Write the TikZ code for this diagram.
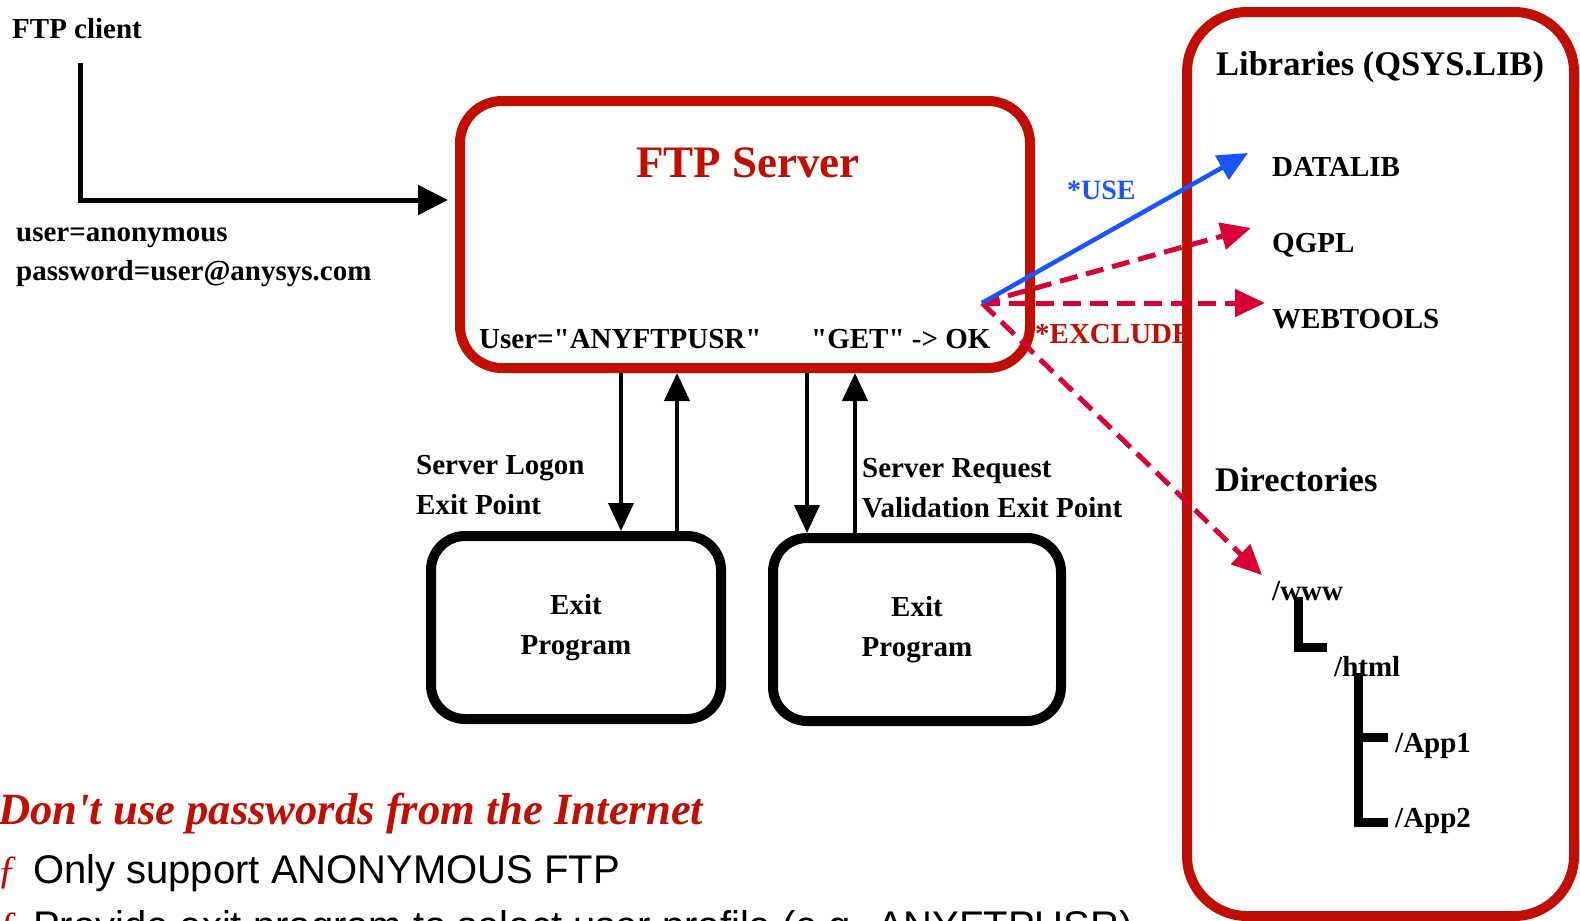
\documentclass[tikz,border=0pt]{standalone}
\usepackage{fontspec}
\setmainfont{Liberation Serif}[Ligatures=TeXOff]
\newfontfamily\bodysans{Liberation Sans}
\usetikzlibrary{arrows.meta,calc}
\definecolor{boxred}{RGB}{192,14,0}
\definecolor{crim}{RGB}{217,0,52}
\definecolor{useblue}{RGB}{25,85,255}

\begin{document}
\begin{tikzpicture}[x=1pt,y=-1pt,
  txt/.style={inner sep=0pt, anchor=base west, font=\fontsize{29}{34}\selectfont\bfseries},
  bigtxt/.style={txt, font=\fontsize{34.5}{40}\selectfont\bfseries},
  redbox/.style={draw=boxred, line width=10pt, rounded corners=#1, inner sep=0pt},
  blackbox/.style={draw=black, line width=10pt, rounded corners=34pt, inner sep=0pt,
    align=center, font=\fontsize{29}{40}\selectfont\bfseries},
  flow/.style={line width=4pt, -{Triangle[length=28pt,width=25pt]}},
  feed/.style={line width=5pt, line join=miter, -{Triangle[length=30pt,width=29pt]}},
  allow/.style={draw=useblue, line width=4.5pt, -{Triangle[length=30pt,width=27pt]}},
  deny/.style={draw=crim, line width=5pt, dash pattern=on 18pt off 9pt,
    -{Triangle[length=30pt,width=27pt]}},
  tree/.style={line width=9pt, line join=miter},
  bullet/.style={inner sep=0pt, anchor=base west, text=boxred,
    font=\fontsize{40}{48}\selectfont\itshape},
  point/.style={inner sep=0pt, anchor=base west, font=\bodysans\fontsize{40}{48}\selectfont},
]
\useasboundingbox (0,0) rectangle (1580,921);
\clip (0,0) rectangle (1580,921);

% client side
\node[txt] (client) at (12,38) {FTP client};
\node[txt] (user) at (16,241) {user=anonymous};
\node[txt] (pass) at (16,280) {password=user@anysys.com};

% server and exit programs
\node[redbox=42pt, minimum width=570pt, minimum height=267pt] (server) at (745,234.5) {};
\node[inner sep=0pt, anchor=base, text=boxred, font=\fontsize{45}{50}\selectfont\bfseries]
  (title) at (748,177) {FTP Server};
\node[txt] (ftpuser) at (479,348) {User="ANYFTPUSR"};
\node[txt] (getok) at (811,348) {"GET" -> OK};

\node[blackbox, minimum width=290pt, minimum height=183pt] (exitA) at (576,627.5) {Exit\\Program};
\node[blackbox, minimum width=288pt, minimum height=183pt] (exitB) at (917,629.5) {Exit\\Program};

\node[txt] (logon1) at (416,474) {Server Logon};
\node[txt] (logon2) at (416,514) {Exit Point};
\node[txt] (req1) at (862,477) {Server Request};
\node[txt] (req2) at (862,517) {Validation Exit Point};

\coordinate (pA1) at ([xshift=45pt]exitA.north);
\coordinate (pA2) at ([xshift=101pt]exitA.north);
\coordinate (pB1) at ([xshift=-110pt]exitB.north);
\coordinate (pB2) at ([xshift=-62pt]exitB.north);
\draw[flow] (pA1 |- server.south) -- (pA1);
\draw[flow] (pA2) -- (pA2 |- server.south);
\draw[flow] (pB1 |- server.south) -- (pB1);
\draw[flow] (pB2) -- (pB2 |- server.south);

% client request into the server
\coordinate (ctop) at (80,63);
\coordinate (cin) at (448,200);
\draw[feed] (ctop) |- (cin);

% libraries and directories
\node[inner sep=0pt, anchor=base west, text=boxred, font=\fontsize{29}{32}\selectfont\bfseries]
  (exclude) at (1035,343) {*EXCLUDE};
\node[inner sep=0pt, anchor=base west, text=useblue, font=\fontsize{28}{32}\selectfont\bfseries]
  (use) at (1067,199) {*USE};
\node[redbox=60pt, minimum width=387pt, minimum height=904pt] (libs) at (1380.5,464) {};
\node[bigtxt] (libtitle) at (1216,75) {Libraries (QSYS.LIB)};
\node[txt] (datalib) at (1272,176) {DATALIB};
\node[txt] (qgpl) at (1272,252) {QGPL};
\node[txt] (webtools) at (1272,328) {WEBTOOLS};
\node[bigtxt] (dirs) at (1215,491) {Directories};
\node[txt] (www) at (1272,600) {/www};
\node[txt] (html) at (1334,676) {/html};
\node[txt] (app1) at (1395,752) {/App1};
\node[txt] (app2) at (1395,827) {/App2};

\draw[tree] ($(www.base west)+(26,-3)$) |- ($(html.base west)+(-7,-29)$);
\draw[tree] ($(html.base west)+(24,-3)$) |- ($(app2.base west)+(-7,-5)$);
\draw[tree] ($(app1.base west)+(-41,-15)$) -- ($(app1.base west)+(-7,-15)$);

% authority checks from the request
\coordinate (fork) at (982,303);
\coordinate (tipD) at ($(datalib.base west)+(-24,-23)$);
\coordinate (tipQ) at ($(qgpl.base west)+(-21,-24)$);
\coordinate (tipW) at ($(webtools.base west)+(-7,-25)$);
\coordinate (tipX) at ($(www.base west)+(-10,-25)$);
\draw[deny] (fork) -- (tipQ);
\draw[deny] (fork) -- (tipW);
\draw[deny] (fork) -- (tipX);
\draw[allow] (fork) -- (tipD);

% notes
\node[inner sep=0pt, anchor=base west, text=boxred,
  font=\fontsize{44.6}{50}\selectfont\bfseries\itshape]
  (warn) at (-2,824) {Don't use passwords from the Internet};
\node[bullet] (m1) at (-3,883) {ƒ};
\node[point] (n1) at (33,883) {Only support ANONYMOUS FTP};
\node[bullet] (m2) at (-3,939) {ƒ};
\node[point] (n2) at (33,939) {Provide exit program to select user profile (e.g. ANYFTPUSR)};
\end{tikzpicture}
\end{document}
